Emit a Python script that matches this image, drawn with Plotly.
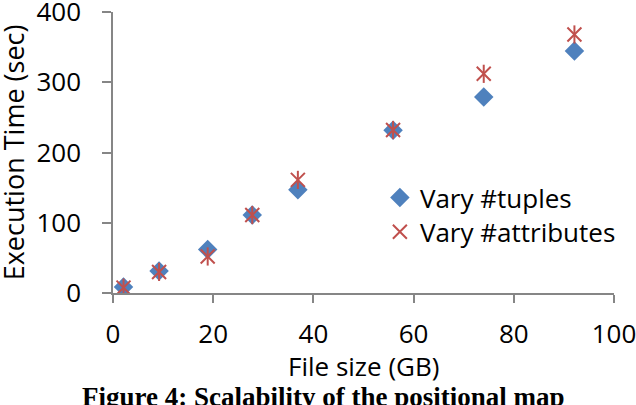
import plotly.graph_objects as go

file_size_gb = [2.1, 9.2, 18.9, 27.8, 36.9, 55.9, 74.0, 92.1]
time_vary_tuples = [8.6, 31.4, 62, 111, 147, 231.5, 279, 344.5]
time_vary_attributes = [7.6, 30, 52, 111, 161, 232, 312, 368]

x_ticks = [0, 20, 40, 60, 80, 100]
y_ticks = [0, 100, 200, 300, 400]

BLUE = "#4F81BD"
RED = "#C0504D"
AXIS = "#868686"
FONT = "Open Sans"

fig = go.Figure()
fig.add_trace(go.Scatter(
    x=file_size_gb, y=time_vary_tuples, mode="markers", name="Vary #tuples",
    marker=dict(symbol="diamond", size=15, color=BLUE, line=dict(width=0)),
    legend="legend"))
fig.add_trace(go.Scatter(
    x=file_size_gb, y=time_vary_attributes, mode="markers", name="Vary #attributes",
    marker=dict(symbol="x-thin-open", size=14, color=RED, line=dict(width=2, color=RED)),
    legend="legend2"))
fig.add_trace(go.Scatter(
    x=file_size_gb, y=time_vary_attributes, mode="markers", name="Vary #attributes",
    marker=dict(symbol="line-ns-open", size=13, color=RED, line=dict(width=2, color=RED)),
    showlegend=False))

legend_common = dict(xanchor="left", yanchor="top", bgcolor="rgba(0,0,0,0)",
                     font=dict(size=26, family=FONT), itemsizing="trace")

fig.update_layout(
    width=636, height=405,
    margin=dict(l=113, r=22, t=12, b=112, autoexpand=False),
    paper_bgcolor="white", plot_bgcolor="white",
    font=dict(family=FONT, size=26, color="#000000"),
    showlegend=True,
    legend=dict(x=0.5327, y=0.423, **legend_common),
    legend2=dict(x=0.5327, y=0.301, **legend_common),
    xaxis=dict(range=[0, 100], tickvals=x_ticks, ticks="outside", ticklen=8,
               tickcolor=AXIS, tickwidth=1.5, showline=True, linecolor=AXIS,
               linewidth=1.5, showgrid=False, zeroline=False, automargin=False,
               ticklabelstandoff=9, ticklabeloverflow="allow", tickfont=dict(size=26)),
    yaxis=dict(range=[0, 400], tickvals=y_ticks, ticks="outside", ticklen=9,
               tickcolor=AXIS, tickwidth=1.5, showline=True, linecolor=AXIS,
               linewidth=1.5, showgrid=False, zeroline=False, automargin=False,
               ticklabelstandoff=16, ticklabeloverflow="allow", tickfont=dict(size=26)),
    annotations=[
        dict(text="File size (GB)", xref="paper", yref="paper", x=0.5, y=-0.259,
             xanchor="center", yanchor="middle", showarrow=False,
             font=dict(family=FONT, size=26, color="#000000")),
        dict(text="Execution Time (sec)", xref="paper", yref="paper", x=-0.198, y=0.5,
             xanchor="center", yanchor="middle", textangle=-90, showarrow=False,
             font=dict(family=FONT, size=27, color="#000000")),
        dict(text="<b>Figure 4: Scalability of the positional map</b>",
             xref="paper", yref="paper", x=0.42, y=-0.31,
             xanchor="center", yanchor="top", showarrow=False,
             font=dict(family="Liberation Serif", size=27, color="#000000")),
    ],
)

fig.write_html("out.html")
